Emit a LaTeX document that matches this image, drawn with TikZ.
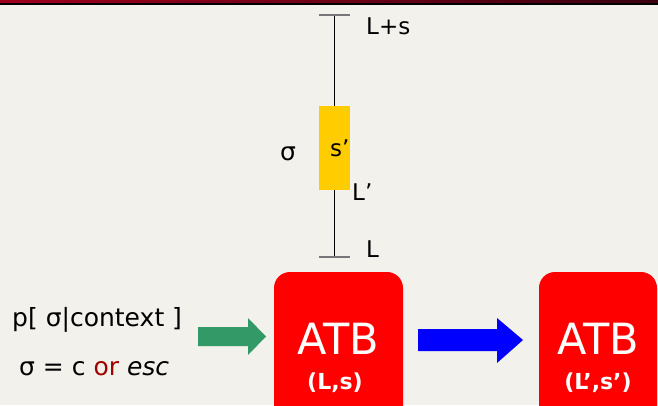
\documentclass[tikz,border=0pt]{standalone}
\usepackage{fontspec}
\setmainfont{DejaVu Sans}
\definecolor{bg}{HTML}{F2F1EB}
\definecolor{barL}{HTML}{A0001E}
\definecolor{barR}{HTML}{3A0010}
\definecolor{boxred}{HTML}{FF0000}
\definecolor{gr}{HTML}{339966}
\definecolor{orred}{HTML}{A00000}
\definecolor{tick}{HTML}{777777}
\definecolor{gold}{HTML}{FFCC00}
\tikzset{
  lbl/.style={font=\fontsize{23}{26}\selectfont, inner sep=0pt, anchor=base west},
  biglbl/.style={lbl, font=\fontsize{25}{28}\selectfont},
  atbbox/.style={fill=boxred, rounded corners=16pt},
  atbtext/.style={text=white, font=\fontsize{43}{46}\selectfont, inner sep=0pt, anchor=base},
  atbsub/.style={text=white, font=\bfseries\fontsize{22}{25}\selectfont, inner sep=0pt, anchor=base},
  tickline/.style={draw=tick, line width=1.2pt},
}
\begin{document}
\begin{tikzpicture}[x=1pt,y=1pt]
  % canvas
  \fill[bg] (0,0) rectangle (658,405);
  \useasboundingbox (0,0) rectangle (658,405);
  % title bar
  \shade[left color=barL, right color=barR] (0,401) rectangle (658,405);
  \fill[black] (0,400) rectangle (658,401.5);

  % scale with interval
  \coordinate (top) at (334,390);
  \coordinate (bot) at (334,148);
  \draw[line width=0.8pt] (top) -- (bot);
  \draw[tickline] (319,390) -- (350,390);
  \draw[tickline] (319,148) -- (350,148);
  \node[fill=gold, minimum width=31pt, minimum height=84pt, inner sep=0pt, anchor=south west] (seg) at (319,215) {};
  \node[lbl] (Ls) at (366,370) {L+s};
  \node[biglbl] (sig) at (280,245) {σ};
  \node[lbl] (sp) at (330,248) {s’};
  \node[lbl] (Lp) at (352,205) {L’};
  \node[lbl] (L) at (366,148) {L};

  % input distribution
  \node[biglbl] (p) at (12,79) {p[ σ|context ]};
  \node[biglbl] (eq) at (19,30) {σ = c \textcolor{orred}{or} \textit{esc}};

  % boxes
  \fill[atbbox] (274,-20) rectangle (403,133);
  \node[atbtext] (atb1) at (338.5,51) {ATB};
  \node[atbsub] (ls1) at (335,16) {(L,s)};
  \fill[atbbox] (539,-20) rectangle (657,133);
  \node[atbtext] (atb2) at (598,51) {ATB};
  \node[atbsub] (ls2) at (598,16) {(L’,s’)};

  % block arrows
  \fill[gr] (198,59) -- (248,59) -- (248,50) -- (266,68.5) -- (248,87) -- (248,78) -- (198,78) -- cycle;
  \fill[blue] (418,54) -- (497,54) -- (497,42) -- (523,65) -- (497,87) -- (497,76) -- (418,76) -- cycle;
\end{tikzpicture}
\end{document}
